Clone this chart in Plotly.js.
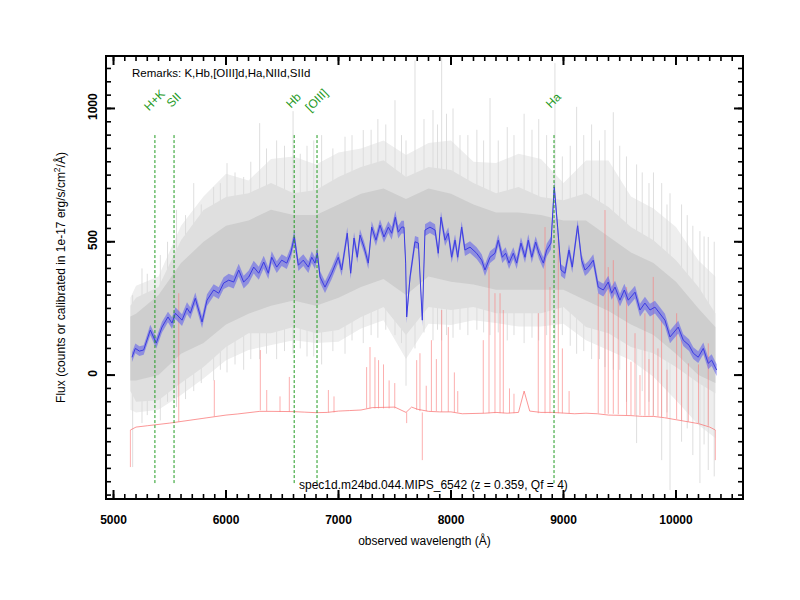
<!DOCTYPE html>
<html><head><meta charset="utf-8">
<script src="https://cdn.plot.ly/plotly-3.0.1.min.js"></script>
<style>html,body{margin:0;padding:0;background:#fff}#chart{width:800px;height:600px}</style>
</head><body><div id="chart"></div>
<script>
// ---- gray stacked spectra envelope ----
const grayX        = [5150,5200,5400,5600,5800,6000,6200,6400,6600,6800,7000,7200,7400,7600,7800,8000,8200,8400,8600,8800,9000,9200,9400,9600,9800,10000,10200,10350];
const grayOuterHi  = [290,335,370,560,670,755,730,810,820,790,835,850,880,825,870,880,800,795,830,810,720,805,805,670,625,555,430,370];
const grayInnerHi  = [260,290,330,506,619,668,682,720,682,694,743,780,806,743,780,769,720,682,705,668,656,682,630,555,506,431,330,232];
const grayCoreHi   = [220,230,300,420,500,560,580,620,600,600,640,680,700,660,700,680,640,610,610,600,580,580,520,460,420,350,250,180];
const grayCoreLo   = [-20,-20,0,80,120,190,230,260,280,260,290,330,360,300,370,350,340,320,320,320,320,280,240,190,150,80,0,-30];
const grayInnerLo  = [-60,-100,-94,-30,30,105,157,157,180,157,169,218,255,150,255,244,255,232,232,232,255,180,157,105,82,30,-30,-68];
const grayOuterLo  = [-130,-140,-130,-75,-13,56,94,112,131,120,125,175,206,60,193,188,206,195,182,182,193,131,94,56,-6,-94,-187,-236];
// individual gray spikes
const graySpikeX  = [5170,5253,5300,5416,5480,5560,5640,5713,5780,5890,5950,6009,6080,6157,6220,6299,6360,6450,6520,6596,6660,6720,6780,6850,6950,7058,7120,7220,7290,7350,7420,7502,7560,7600,7680,7760,7840,7880,7917,7960,8018,8080,8150,8230,8290,8347,8420,8500,8560,8650,8720,8780,8850,8924,8990,9060,9117,9180,9250,9320,9369,9443,9500,9560,9650,9700,9760,9800,9873,9920,9947,10050,10100,10150,10213,10250,10287,10340];
const graySpikeHi = [300,400,380,450,500,620,600,720,640,705,720,795,760,743,800,945,850,880,860,990,830,860,880,900,850,894,900,919,920,960,940,1031,900,880,1180,960,994,940,1190,980,1000,900,900,920,880,1039,880,930,900,980,920,960,900,1170,820,860,1006,900,940,880,919,986,860,820,790,760,720,760,720,640,682,640,600,560,540,520,518,500];
const graySpikeLo = [-345,-180,-150,-170,-100,-120,-90,-60,-30,-20,20,10,40,20,60,60,80,60,90,80,100,70,70,40,90,80,130,120,150,140,170,150,120,-40,100,160,130,170,130,150,140,170,150,170,160,150,160,130,150,120,140,130,150,130,150,110,80,90,60,60,30,20,20,-100,-255,-60,-100,-150,-319,-140,-431,-250,-200,-300,-405,-260,-356,-380];

// ---- red (sky / error) spectrum ----
const redX = [5150,5200,5300,5400,5500,5600,5700,5800,5900,6000,6100,6200,6300,6400,6500,6600,6700,6800,6900,7000,7100,7200,7300,7400,7500,7600,7650,7700,7800,7900,8000,8100,8200,8300,8400,8500,8600,8650,8700,8800,8900,9000,9100,9200,9300,9400,9500,9600,9700,9800,9900,10000,10100,10200,10300,10350];
const redY = [-206,-195,-190,-186,-180,-174,-168,-160,-155,-150,-146,-141,-136,-136,-136,-137,-139,-141,-140,-135,-133,-131,-122,-120,-120,-140,-120,-128,-136,-138,-138,-145,-145,-143,-140,-143,-140,-60,-135,-140,-140,-143,-145,-143,-145,-150,-150,-152,-155,-155,-160,-168,-175,-182,-195,-206];
const redSpikeX    = [5150,5580,5896,6305,6362,6480,6563,6910,6960,7250,7280,7324,7356,7400,7450,7500,7606,7695,7724,7745,7780,7826,7870,7917,7976,8030,8060,8287,8338,8391,8436,8465,8520,8560,8776,8836,8880,8954,8990,9050,9309,9369,9398,9443,9487,9561,9600,9636,9680,9724,9760,9798,9840,9872,9920,10006,10050,10110,10200,10287,10350];
const redSpikeBase = [-206,-175,-155,-132,-135,-138,-138,-140,-140,-125,-125,-125,-125,-125,-125,-125,-140,-130,-135,-140,-135,-135,-135,-138,-138,-140,-140,-143,-143,-143,-143,-143,-143,-143,-143,-143,-143,-143,-143,-143,-143,-145,-145,-145,-147,-150,-150,-150,-150,-152,-152,-155,-155,-157,-160,-165,-170,-175,-180,-190,-206];
const redSpikePeak = [-345,307,-19,94,-56,-80,-7,-56,-80,30,105,67,56,40,-20,-30,-180,56,82,-319,-40,131,60,244,180,10,-60,131,405,307,307,244,-50,-70,232,555,330,532,100,-60,307,619,405,431,281,330,50,157,0,232,60,368,100,206,20,232,131,44,40,119,-319];

// ---- blue co-added spectrum ----
const blueX = [5164,5194,5230,5268,5327,5380,5431,5484,5520,5550,5609,5653,5683,5727,5787,5831,5890,5935,5979,6024,6068,6113,6157,6202,6246,6291,6335,6376,6406,6451,6495,6540,6575,6607,6643,6687,6732,6762,6791,6812,6836,6880,6940,6998,7028,7078,7108,7138,7167,7191,7227,7265,7295,7333,7369,7404,7443,7473,7505,7531,7561,7582,7597,7606,7636,7680,7710,7745,7769,7813,7858,7887,7911,7947,7976,8006,8036,8060,8095,8124,8169,8228,8273,8302,8347,8391,8420,8456,8486,8516,8554,8584,8622,8658,8687,8718,8753,8782,8821,8851,8889,8918,8948,8978,9013,9049,9078,9126,9161,9191,9220,9265,9309,9354,9398,9428,9458,9502,9541,9576,9636,9680,9724,9769,9813,9858,9902,9947,9976,10020,10065,10116,10154,10198,10243,10287,10317,10347,10362];
const blueY = [67,100,90,94,169,120,180,218,195,232,206,251,232,288,199,281,319,307,345,356,349,394,349,368,405,382,424,382,442,405,431,420,457,518,412,431,405,442,420,457,368,330,382,442,394,532,382,514,442,525,480,420,555,506,562,518,555,532,592,536,555,555,420,218,368,500,495,206,544,555,544,457,592,506,532,442,506,442,555,469,480,457,431,394,442,457,506,442,457,420,457,420,495,442,506,442,499,457,420,469,495,705,555,394,382,469,405,560,431,394,405,431,330,319,349,307,330,281,319,281,311,244,270,244,255,232,206,143,157,180,131,112,82,67,100,44,56,30,19];
const blueErr = [18,18,18,18,20,20,20,20,22,22, 22,22,22,22,22,22,22,22,22,24, 24,24,24,24,24,24,24,22,22,22, 22,22,22,24,22,22,22,22,22,22, 22,22,22,22,22,22,22,22,22,22, 22,22,22,22,22,22,22,24,24,24, 24,24,24,24,22,22,22,22,22,22, 22,22,22,22,22,22,22,22,22,22, 22,22,22,22,22,22,22,22,22,22, 22,22,22,22,22,22,22,22,22,24, 24,26,24,22,22,22,22,22,22,22, 22,22,24,24,24,24,24,24,24,24, 24,24,24,24,24,24,24,24,24,24, 22,22,22,22,22,22,22,22,22];

// ---- identified lines ----
const lineNames  = ['H+K','SII','Hb','[OIII]','Ha'];
const lineX      = [5368,5538,6606,6809,8916];
const lineTop    = [907,907,907,907,907];
const lineBottom = [-405,-405,-405,-405,-405];
const lineLabelY = [1030,1030,1030,1030,1030];

// ---- axis ticks ----
const xMajorStep = 1000, xMinorStep = 100, yMajorStep = 500, yMinorStep = 50;

const remarksText = 'Remarks: K,Hb,[OIII]d,Ha,NIId,SIId';
const specText = 'spec1d.m24bd.044.MIPS_6542 (z = 0.359, Qf = 4)';

const W = 800, H = 600, M = {l: 107, r: 58, t: 57, b: 102};
const XR = [4942, 10587], YR = [-461, 1193];
const xPerPx = (XR[1] - XR[0]) / (W - M.l - M.r);
const yPerPx = (YR[1] - YR[0]) / (H - M.t - M.b);

function segs(xs, a, b) {
  const x = [], y = [];
  xs.forEach((v, i) => { x.push(v, v, null); y.push(a[i], b[i], null); });
  return {x, y};
}
const gs = segs(graySpikeX, graySpikeLo, graySpikeHi);
const rs = segs(redSpikeX, redSpikeBase, redSpikePeak);
const ls = segs(lineX, lineBottom, lineTop);
const blueHi = blueY.map((v, i) => v + blueErr[i]);
const blueLo = blueY.map((v, i) => v - blueErr[i]);

// inward tick marks on all four frame edges (length given in pixels)
function tickTrace(xStart, xStep, yStart, yStep, lenPx, width) {
  const x = [], y = [];
  const dy = lenPx * yPerPx, dx = lenPx * xPerPx;
  for (let v = xStart; v <= XR[1]; v += xStep) {
    x.push(v, v, null, v, v, null);
    y.push(YR[0], YR[0] + dy, null, YR[1], YR[1] - dy, null);
  }
  for (let v = yStart; v <= YR[1]; v += yStep) {
    x.push(XR[0], XR[0] + dx, null, XR[1], XR[1] - dx, null);
    y.push(v, v, null, v, v, null);
  }
  return {x, y, mode: 'lines', line: {color: '#000000', width: width, simplify: false}, hoverinfo: 'skip', connectgaps: false};
}

function band(lo, hi, color) {
  return [
    {x: grayX, y: lo, mode: 'lines', line: {width: 0}, hoverinfo: 'skip'},
    {x: grayX, y: hi, mode: 'lines', line: {width: 0}, fill: 'tonexty', fillcolor: color, hoverinfo: 'skip'}
  ];
}

const traces = [].concat(
  band(grayOuterLo, grayOuterHi, '#eeeeee'),
  [{x: gs.x, y: gs.y, mode: 'lines', line: {color: '#dadada', width: 0.9}, hoverinfo: 'skip'}],
  band(grayInnerLo, grayInnerHi, '#dfdfdf'),
  band(grayCoreLo, grayCoreHi, '#cecece'),
  [
    {x: redX, y: redY, mode: 'lines', line: {color: 'rgba(250,110,110,0.9)', width: 0.8}},
    {x: rs.x, y: rs.y, mode: 'lines', line: {color: 'rgba(250,120,120,0.75)', width: 0.8}},
    {x: blueX, y: blueLo, mode: 'lines', line: {width: 0}, hoverinfo: 'skip'},
    {x: blueX, y: blueHi, mode: 'lines', line: {width: 0}, fill: 'tonexty', fillcolor: 'rgba(100,100,235,0.6)', hoverinfo: 'skip'},
    {x: blueX, y: blueY, mode: 'lines', line: {color: 'rgb(60,60,225)', width: 1}},
    {x: ls.x, y: ls.y, mode: 'lines', line: {color: '#1f9a1f', width: 1, dash: '3px,2px'}},
    tickTrace(5000, xMinorStep, -450, yMinorStep, 4, 1.6),
    tickTrace(5000, xMajorStep, 0, yMajorStep, 8, 2)
  ]
);

const FONT = 'Liberation Sans, Arial, sans-serif';
const annotations = lineNames.map((t, i) => ({
  x: lineX[i], y: lineLabelY[i], xref: 'x', yref: 'y', text: t, showarrow: false,
  textangle: -45, font: {family: FONT, size: 12, color: '#1f9a1f'}
}));
annotations.push({x: 0.036, y: 0.964, xref: 'paper', yref: 'paper', xanchor: 'left', yanchor: 'middle',
  text: remarksText, showarrow: false, font: {family: FONT, size: 11.5, color: '#000'}});
annotations.push({x: 0.299, y: 0.03, xref: 'paper', yref: 'paper', xanchor: 'left', yanchor: 'middle',
  text: specText, showarrow: false, font: {family: FONT, size: 12, color: '#000'}});

const axisCommon = {
  showgrid: false, zeroline: false, showline: true, linewidth: 2, linecolor: '#000',
  mirror: true, ticks: '',
  tickfont: {family: FONT, size: 12, color: '#000', weight: 'bold'}
};

const layout = {
  width: W, height: H, showlegend: false, hovermode: false,
  paper_bgcolor: '#fff', plot_bgcolor: '#fff',
  margin: M,
  xaxis: Object.assign({}, axisCommon, {
    range: XR, tick0: 5000, dtick: xMajorStep, tickformat: 'd', ticklabelstandoff: 10,
    title: {text: 'observed wavelength (Å)', standoff: 10, font: {family: FONT, size: 12, color: '#000'}}
  }),
  yaxis: Object.assign({}, axisCommon, {
    range: YR, tick0: 0, dtick: yMajorStep, tickangle: -90, tickformat: 'd', ticklabelstandoff: 3,
    title: {text: 'Flux (counts or calibrated in 1e-17 erg/s/cm<sup>2</sup>/Å)', standoff: 18, font: {family: FONT, size: 12, color: '#000'}}
  }),
  annotations: annotations
};

Plotly.newPlot('chart', traces, layout, {staticPlot: true, displayModeBar: false});
</script></body></html>
